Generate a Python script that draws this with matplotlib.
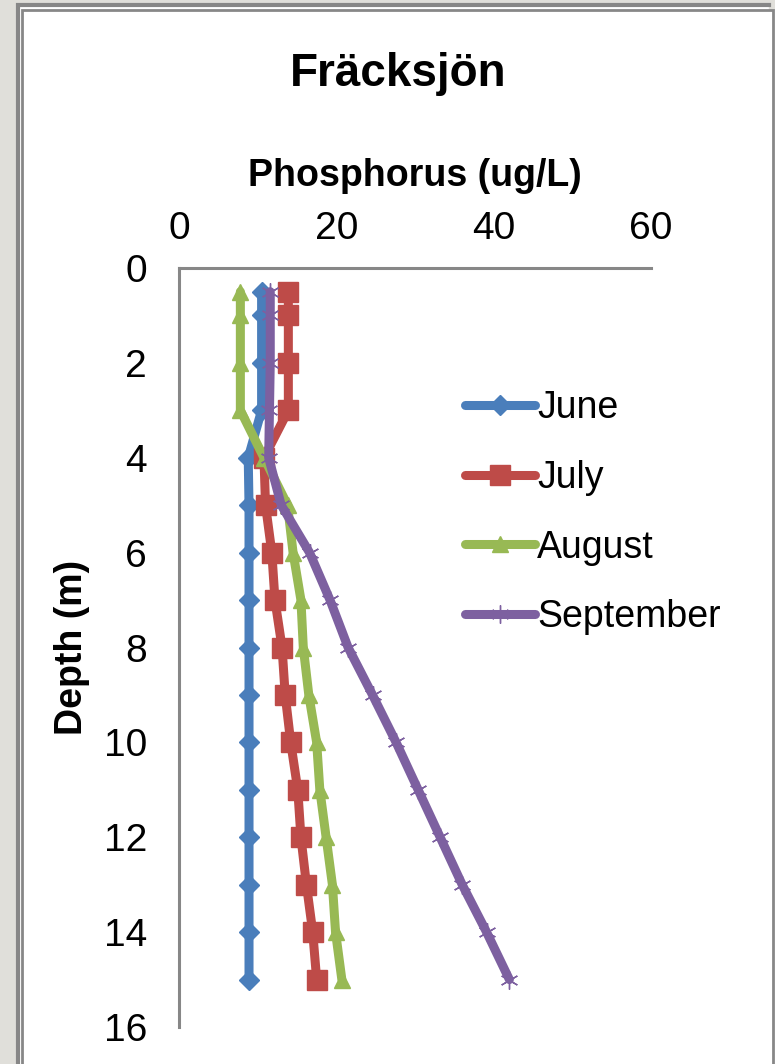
import matplotlib
matplotlib.use("Agg")
import matplotlib.pyplot as plt
from matplotlib.lines import Line2D
from matplotlib.patches import Rectangle

plt.rcParams['font.family'] = ['Liberation Sans', 'DejaVu Sans']

depth = [0.5, 1, 2, 3, 4, 5, 6, 7, 8, 9, 10, 11, 12, 13, 14, 15]
june = [10.5, 10.5, 10.5, 10.5, 8.8, 8.9, 8.9, 8.9, 8.9, 8.9, 8.9, 8.9, 8.9, 8.9, 8.9, 8.9]
july = [13.9, 13.9, 13.9, 13.9, 10.8, 11.0, 11.8, 12.2, 13.1, 13.5, 14.2, 15.1, 15.5, 16.2, 17.0, 17.5]
august = [7.8, 7.8, 7.8, 7.8, 10.8, 13.8, 14.5, 15.5, 15.8, 16.5, 17.5, 17.9, 18.7, 19.5, 19.9, 20.7]
september = [11.6, 11.6, 11.6, 11.5, 11.4, 13.0, 16.6, 19.2, 21.5, 24.6, 27.6, 30.4, 33.2, 36.0, 39.1, 42.0]
labels = ["June", "July", "August", "September"]
colors = ["#4A7EBB", "#BE4B48", "#98B954", "#7D60A0"]
markers = ["D", "s", "^", (6, 2, 0)]
msizes = [10, 14, 12, 13]

W, H = 775, 1064
fig = plt.figure(figsize=(W / 100, H / 100), dpi=100)
fig.patch.set_facecolor("white")

def fx(px):
    return px / W

def fy(py):
    return 1 - py / H

# outer grey background strips
fig.add_artist(Rectangle((0, 0), fx(16), 1, transform=fig.transFigure, color="#E0DFDA", zorder=0))
fig.add_artist(Rectangle((0, fy(3)), 1, 3 / H, transform=fig.transFigure, color="#E0DFDA", zorder=0))
fig.add_artist(Rectangle((fx(769), fy(9)), 6 / W, 6 / H, transform=fig.transFigure, color="#E0DFDA", zorder=0))
# double border
fig.add_artist(Line2D([fx(18), fx(18), fx(769)], [0, fy(5), fy(5)], transform=fig.transFigure,
                      color="#878787", lw=3, solid_joinstyle="miter"))
fig.add_artist(Line2D([fx(22), fx(22), fx(773), fx(773)], [0, fy(10), fy(10), 0], transform=fig.transFigure,
                      color="#878787", lw=2, solid_joinstyle="miter"))

ax = fig.add_axes([fx(179), fy(1027), fx(651) - fx(179), fy(268) - fy(1027)])
ax.set_xlim(0, 60)
ax.set_ylim(16, 0)

series = [june, july, august, september]
for vals, lab, col, mk, ms in zip(series, labels, colors, markers, msizes):
    ax.plot(vals, depth, color=col, lw=6.5, marker=mk, markersize=ms,
            markerfacecolor=col, markeredgecolor=col, label=lab,
            solid_capstyle="round", solid_joinstyle="round")

ax.xaxis.tick_top()
ax.xaxis.set_label_position("top")
ax.set_xticks([0, 20, 40, 60])
ax.set_yticks(range(0, 17, 2))
ax.tick_params(axis="both", length=0, labelsize=28)
ax.tick_params(axis="x", pad=15)
ax.tick_params(axis="y", pad=23)
for s in ["right", "bottom"]:
    ax.spines[s].set_visible(False)
for s in ["left", "top"]:
    ax.spines[s].set_color("#878787")
    ax.spines[s].set_linewidth(2.2)

ax.set_xlabel("Phosphorus (ug/L)", fontsize=27, fontweight="bold", labelpad=18)
ax.set_ylabel("Depth (m)", fontsize=27, fontweight="bold", labelpad=10)
fig.text(fx(398), fy(74), "Fräcksjön", fontsize=33, fontweight="bold", ha="center", va="center")

leg = ax.legend(loc="upper left", frameon=False,
                fontsize=27, handlelength=1.87, handletextpad=0.05, labelspacing=0.9,
                borderaxespad=0)
leg.set_bbox_to_anchor((fx(450), fy(375)), transform=fig.transFigure)

fig.savefig("out.png", dpi=100, facecolor=fig.get_facecolor())
